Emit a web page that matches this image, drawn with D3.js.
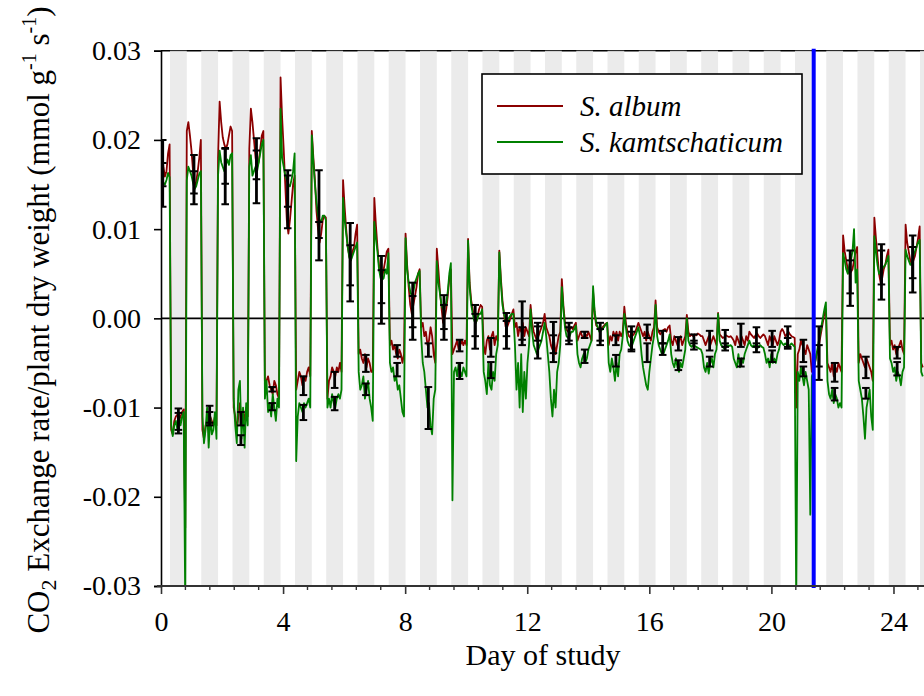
<!DOCTYPE html>
<html>
<head>
<meta charset="utf-8">
<script src="https://cdn.jsdelivr.net/npm/d3@7"></script>
<style>
  body { margin: 0; background: #fff; }
  svg text { font-family: "Liberation Serif", "Times New Roman", serif; fill: #000; }
</style>
</head>
<body>
<svg id="chart" width="924" height="696"></svg>
<script>
// CO2 exchange of two Sedum species over the course of the study.
// Rates are logged on a regular grid (one row per light/dark cycle) in
// µmol g-1 s-1 and converted to mmol g-1 s-1 for plotting.
const sampleStartDay = 0.026;
const sampleStepDay = 0.0512;

const albumRate = [
  18.5, 17.0, 15.9, 16.5, 18.5, 19.5, -12.5, -13, -11.5, -11, -10.8, -11.5, -11, -10.5, -10.2, -23.5,
  21.0, 22.0, 20.5, 18.8, 16.5, 14.8, 15.3, 16.5, 18.0, 20.0, -12.5, -13.5, -12, -11.5, -12.5, -11, -11.5, -12, -11, -12,
  18, 24.3, 22, 20.3, 19.5, 19.0, 19.5, 20.5, 21.5, 21.0, -10, -11, -12.5, -11, -9.5, -11.5, -12, -11, -10, -11,
  19, 23.5, 22, 20, 18, 17, 17.5, 19, 20.5, 21, -8, -7, -6.5, -7.5, -8, -8.5, -7, -7.5, -8.5, -9,
  27, 22.5, 19, 15, 11, 9.5, 11, 13, 15, 16, -8, -7, -6, -6.5, -7.5, -6.5, -7, -6, -5.5, -6.5,
  21, 18, 15.5, 12, 10, 8.5, 9.5, 11, 11.5, 11.3, -9, -7, -6.5, -5.5, -6, -6.5, -5.5, -6, -5, -6,
  15.5, 12.5, 10, 8, 7, 6.5, 7.5, 8, 9.5, 10.5, -4, -3.5, -4.5, -5, -4, -5.5, -4.5, -5, -6, -6,
  13.5, 10.5, 8, 6, 5, 4.5, 5.5, 6.5, 7.5, 7.8, -3, -2.5, -3.5, -3, -4, -4.5, -3.5, -4, -5, -4,
  9.5, 6, 3.5, 1.5, 0.5, 1.5, 2.5, 3.5, 5, 5.5, -1, -0.5, -2, -1.5, -3, -2.5, -1, -2, -4, -5,
  7.8, 5.5, 3, 1.2, -0.5, 0, 1, 2.5, 4.5, 5.5, -4, -3.5, -3, -2.5, -3.5, -3, -2.5, -3, -2.5, -3,
  8.9, 4, 2, 1, 0, -0.5, 0, 1, 1.5, 1.3, -3, -4, -2.5, -2, -3.5, -2, -1.5, -3, -2, -2.5,
  7.6, 4.5, 2, 0.5, -0.9, -1, -0.5, 0, 0.5, 1, -1, -0.5, -2, -1, -1.5, -0.5, -2, -1, -1.5, -2,
  1.5, -0.5, -1.5, -2, -2.5, -2, -1.5, -1, -0.5, 0.5, -1, -1.5, -2, -3, -3.5, -2.5, -4, -3, -2, -1.5,
  4.4, 1.5, -0.5, -1.3, -1.5, -1.2, -1, -1.2, -0.8, -0.5, -2.5, -2, -1.5, -2, -2.2, -1.8, -2, -1.5, -2, -2.5,
  3.0, 0.5, -0.8, -1, -1.3, -1.2, -1, -0.8, -0.6, -0.5, -3, -2, -2.5, -1.5, -2, -1.5, -2.5, -1.5, -2, -1.5,
  1.3, -0.5, -1.5, -2, -2.2, -2, -1.8, -1.5, -1, -0.5, -1, -1.5, -2, -1.5, -2.5, -1.5, -2, -2.5, -1.5, -1,
  2.0, -1, -1.5, -1.8, -1.5, -1.3, -1.2, -1.5, -1, -0.8, -2.5, -3, -2, -2.5, -3, -2.5, -2, -3, -2.5, -2,
  0.4, -1.5, -2, -1.8, -2, -1.8, -1.9, -1.7, -1.8, -2, -2, -2.5, -3, -2.5, -2, -3, -2.5, -2, -2.5, -3,
  0.6, -1.8, -2, -2.2, -2.1, -1.9, -2, -2.1, -2, -2.2, -2.5, -3, -2, -2.5, -3, -2, -2.5, -3, -2, -2.5,
  -1.5, -1.8, -2, -2.2, -1.9, -1.7, -2, -2.2, -2, -1.8, -2, -2.5, -3, -2, -2.5, -3, -2, -2.5, -3, -2.5,
  -1.5, -1.2, -1.5, -2, -1.8, -1.5, -1.8, -2, -2.1, -2.2, -10, -4, -3.5, -2.5, -3, -3.5, -4, -3, -3.5, -4,
  -6, -5.5, -5, -4, -3.5, -2.5, -1.5, -0.5, 0.5, 1.0, -5, -5.5, -6, -5, -6.5, -5.5, -6, -5, -5.5, -6,
  9.3, 7.5, 6.5, 5.5, 5, 5.2, 5.5, 6.5, 7.5, 8.0, -5, -4, -4.5, -5, -5.5, -4.5, -5, -5.5, -6, -7,
  11.3, 9, 7, 5, 4, 4.5, 5.5, 6, 7, 7.7, -3, -2.5, -3.5, -3, -4, -3.5, -3, -2.5, -3.5, -4,
  10.5, 8.5, 7.5, 6.5, 6, 6.5, 7, 8, 9, 10.3, -5, -5.5
];

const kamtRate = [
  16.0, 15.2, 15.0, 15.5, 16.3, 15.8, -12, -13.2, -12, -11.5, -12.5, -11, -12, -11, -10.5, -32,
  15.5, 17.0, 16.5, 16.0, 15.2, 14.5, 14.8, 15.5, 16.2, 16.5, -11, -14, -12.5, -10, -14.5, -11, -13, -12.5, -10.5, -13.5,
  16, 18.8, 17.5, 17, 16.5, 17.2, 17.8, 17.2, 18.3, 18.5, -9, -12, -14, -8, -7, -13.5, -10, -14.5, -9.5, -12,
  17, 18.3, 16, 16.5, 17, 16.5, 17.5, 18.5, 19.5, 20, -9, -7, -10.5, -9.5, -11, -8.5, -10, -11.5, -9, -10,
  23.5, 18, 17, 16, 15.5, 15, 14.8, 15.5, 16.5, 18.5, -16, -11, -9.5, -10, -10.5, -9.5, -10, -9.5, -9, -10,
  20.5, 17.5, 15, 13, 11.5, 11, 10.8, 11.5, 11.5, 11, -10, -9, -10, -8.5, -9.5, -10, -9, -8.5, -9, -8,
  13.5, 11, 9.5, 8, 6.8, 6.5, 7, 7.5, 8, 8.5, -6, -8, -7.5, -6.5, -9, -8, -7, -9, -10, -11.5,
  10.8, 9, 7.5, 5.5, 4.5, 4.3, 4.5, 5.5, 5.0, 7.3, -5, -6, -5.5, -7, -6.5, -8, -7.5, -9, -10.5, -11,
  9, 5.5, 4, 3, 2.5, 3, 4, 4.5, 5.0, 5.3, -2, -5, -6, -8, -10, -9.5, -12, -13, -9, -8,
  6.4, 4, 2.8, 1.5, 1, 1.3, 1.7, 3, 5, 6.2, -20.4, -6, -5.5, -6.5, -5, -6, -6.5, -5.5, -6, -6.5,
  8.7, 3.5, 1.5, 0.5, -0.3, -0.5, 0, 0.5, 0.5, 1.0, -6, -7, -8.5, -5, -7.5, -8, -6, -7, -4, -3,
  7.4, 4, 1.5, 0.5, -0.2, -0.3, 0, 0.3, 0.5, 0.5, -3, -8, -5, -10, -4, -10.5, -6, -9, -5, -3,
  1.0, -1.5, -3, -3.5, -4, -3.5, -3, -2.5, -1.5, -0.5, -2, -4, -6, -9, -11, -8, -10, -6, -5, -3,
  3.5, 1, -1, -2, -2.2, -2, -1.5, -1.5, -1.2, -0.8, -4, -5, -5.5, -4.5, -4, -5, -4.5, -3.5, -3, -2.5,
  3.6, 0.8, -0.5, -1, -1.5, -1.4, -1.2, -1, -0.7, -0.5, -5, -6, -4.5, -5.5, -7, -5, -6.5, -4, -3.5, -2,
  0.5, -1, -2.5, -3, -3.2, -3, -2.5, -2, -1.5, -1, -2, -4, -5.5, -6.5, -7.5, -8, -6, -4.5, -3, -2,
  1.5, -2, -3, -3.5, -4, -4, -3.5, -3, -2.5, -1.8, -4, -5, -5.5, -4.5, -5.5, -6, -5, -5.5, -4.5, -3.5,
  0, -2.5, -3, -3.2, -3, -3.1, -3.2, -3.3, -3.4, -3.5, -4, -5.5, -6, -5, -6.2, -5, -4.5, -5.5, -4, -3.5,
  0.5, -2.5, -3, -3.2, -3.4, -3.2, -3, -3.1, -3, -3.2, -4.5, -5, -5.5, -4, -5.5, -4.5, -5, -4, -3.5, -3,
  -2.5, -3, -3.2, -3, -3.3, -3.4, -3.1, -3, -3.2, -3.3, -4, -5, -4.5, -5.5, -4, -5, -4.5, -5, -4, -3.5,
  -2.5, -2.8, -3, -2.8, -3, -3.2, -3, -2.8, -3, -3.2, -32, -6, -7, -5.5, -6.5, -7.5, -6, -7, -8, -22,
  -6.5, -6, -5, -4, -3, -2, -1, 0, 1, 1.8, -7, -8.5, -9, -8, -9.5, -8.5, -9, -10, -9.5, -10,
  7.3, 6.5, 5.5, 5, 6, 6.5, 7.5, 10, 4, 5.5, -7, -8, -9, -11, -13.5, -10, -9, -8, -11, -12.5,
  9.2, 7.5, 6, 5, 5.3, 5.5, 5.8, 6, 6.5, 7, -4.5, -5, -6, -5.5, -7, -6, -6.5, -7.5, -6, -5.5,
  7.7, 7, 6.5, 6, 6.2, 7, 7.5, 8, 8.5, 8.8, -6, -6.5
];

// Dark periods (shaded), in days
const darkStart = [0.295, 1.319, 2.343, 3.367, 4.391, 5.414, 6.438, 7.462, 8.486, 9.510,
  10.534, 11.558, 12.582, 13.606, 14.630, 15.654, 16.677, 17.701, 18.725, 19.749,
  20.773, 21.797, 22.821, 23.845, 24.869];
const darkEnd = [0.845, 1.869, 2.893, 3.917, 4.941, 5.965, 6.989, 8.013, 9.037, 10.061,
  11.085, 12.108, 13.132, 14.156, 15.180, 16.204, 17.228, 18.252, 19.276, 20.300,
  21.323, 22.347, 23.371, 24.395, 25.419];

// Mean ± SE of each light and dark period (µmol g-1 s-1)
const barDays = [0.056, 0.570, 1.080, 1.594, 2.104, 2.618, 3.128, 3.642, 4.152, 4.666,
  5.176, 5.690, 6.199, 6.713, 7.223, 7.737, 8.247, 8.761, 9.271, 9.785,
  10.295, 10.809, 11.319, 11.833, 12.343, 12.857, 13.367, 13.881, 14.391, 14.905,
  15.415, 15.929, 16.438, 16.952, 17.462, 17.976, 18.486, 19.000, 19.510, 20.024,
  20.534, 21.048, 21.558, 22.072, 22.582, 23.096, 23.606, 24.120, 24.630];
const albumBarMean = [16.25, -11.5, 15.55, -10.75, 15.95, -11.25, 16.55, -7.95, 13.35, -7.55,
  11.55, -6.9, 6.3, -5.05, 3.2, -3.65, 0.8, -3.55, 0.1, -3.05,
  -0.95, -3.25, -1.4, -0.25, -1.5, -2.15, -1.7, -1.85, -1.75, -2.45,
  -2.3, -1.45, -2.1, -2.85, -2.3, -2.5, -2.25, -1.9, -2.1, -2.3,
  -2.15, -3.65, -3.9, -6.05, 4.5, -5.5, 5.2, -3.85, 6.1];
const albumBarSE = [3.75, 1.4, 2.75, 0.95, 3.15, 0.75, 3.65, 0.25, 3.25, 1.05,
  5.05, 0.9, 4.4, 0.95, 3.8, 0.65, 3.2, 0.75, 2.5, 0.65,
  2.45, 1.05, 2.0, 2.15, 1.0, 1.75, 1.2, 0.35, 1.25, 0.55,
  1.4, 0.75, 0.7, 0.75, 0.5, 1.1, 0.95, 1.3, 1.1, 0.9,
  1.25, 1.25, 3.0, 1.05, 3.1, 1.2, 3.1, 0.65, 3.2];
const kamtBarMean = [16.1, -11.55, 15.25, -11.25, 17.05, -13.65, 17.2, -9.9, 14.25, -10.55,
  9.9, -9.55, 5.95, -7.95, 3.55, -5.75, 0.75, -10.05, 0.15, -5.9,
  -0.75, -5.8, -1.15, -2.0, -2.7, -3.4, -1.75, -4.25, -1.85, -4.75,
  -2.5, -3.85, -3.45, -5.25, -3.0, -4.85, -3.2, -4.95, -3.3, -4.25,
  -2.7, -5.95, -4.2, -8.5, 4.65, -8.4, 5.7, -5.65, 6.25];
const kamtBarSE = [1.3, 0.95, 1.25, 0.75, 1.95, 0.55, 1.6, 0.4, 1.75, 0.85,
  0.9, 0.75, 2.25, 0.65, 1.85, 0.75, 1.75, 2.35, 1.35, 0.9,
  1.25, 0.9, 0.85, 1.0, 1.8, 1.5, 0.75, 0.75, 0.65, 0.65,
  1.0, 1.05, 0.65, 0.55, 0.5, 0.55, 0.4, 0.45, 0.5, 0.65,
  0.5, 0.55, 1.2, 0.7, 1.85, 0.6, 1.9, 0.75, 1.75];

const treatmentDay = 21.386;
const xTickValues = [0, 4, 8, 12, 16, 20, 24];
const xMinorStep = 0.8;
const yTickValues = [-0.03, -0.02, -0.01, 0, 0.01, 0.02, 0.03];
const seriesNames = ["S. album", "S. kamtschaticum"];
const seriesColors = ["#8b0000", "#008000"];

const svg = d3.select("#chart");
const x = d3.scaleLinear().domain([0, 25]).range([161, 924]);
const y = d3.scaleLinear().domain([-0.03, 0.03]).range([586, 50.7]);
const toMmol = v => v / 1000;

svg.append("defs").append("clipPath").attr("id", "plot-clip")
  .append("rect").attr("x", x(0)).attr("y", y(0.03))
  .attr("width", x(25) - x(0)).attr("height", y(-0.03) - y(0.03));

// top frame (partly veiled by the night shading)
svg.append("line").attr("x1", x(0)).attr("x2", x(25))
  .attr("y1", y(0.03)).attr("y2", y(0.03))
  .attr("stroke", "#000").attr("stroke-width", 1.6);

// night shading
svg.append("g").attr("clip-path", "url(#plot-clip)")
  .selectAll("rect").data(darkStart).join("rect")
  .attr("x", d => x(d))
  .attr("width", (d, i) => x(darkEnd[i]) - x(d))
  .attr("y", y(0.03) - 1).attr("height", y(-0.03) - y(0.03) + 1)
  .attr("fill", "rgb(230,230,230)").attr("fill-opacity", 0.78);

// zero reference
svg.append("line").attr("x1", x(0)).attr("x2", x(25))
  .attr("y1", y(0)).attr("y2", y(0))
  .attr("stroke", "#000").attr("stroke-width", 1.6);

// series
const line = d3.line()
  .x((d, i) => x(sampleStartDay + i * sampleStepDay))
  .y(d => y(toMmol(d)));
const plot = svg.append("g").attr("clip-path", "url(#plot-clip)");
[albumRate, kamtRate].forEach((s, k) => {
  plot.append("path").datum(s).attr("d", line)
    .attr("fill", "none").attr("stroke", seriesColors[k])
    .attr("stroke-width", 1.8).attr("stroke-linejoin", "round");
});

// error bars
const bars = svg.append("g").attr("clip-path", "url(#plot-clip)");
[[albumBarMean, albumBarSE], [kamtBarMean, kamtBarSE]].forEach(([m, se]) => {
  const g = bars.append("g").selectAll("g").data(barDays).join("g");
  g.append("line")
    .attr("x1", d => x(d)).attr("x2", d => x(d))
    .attr("y1", (d, i) => y(toMmol(m[i] - se[i])))
    .attr("y2", (d, i) => y(toMmol(m[i] + se[i])))
    .attr("stroke", "#000").attr("stroke-width", 2.8);
  [-1, 1].forEach(sgn => {
    g.append("line")
      .attr("x1", d => x(d) - 3.8).attr("x2", d => x(d) + 3.8)
      .attr("y1", (d, i) => y(toMmol(m[i] + sgn * se[i])))
      .attr("y2", (d, i) => y(toMmol(m[i] + sgn * se[i])))
      .attr("stroke", "#000").attr("stroke-width", 2);
  });
});

// treatment marker
svg.append("line").attr("x1", x(treatmentDay)).attr("x2", x(treatmentDay))
  .attr("y1", y(0.03) - 2).attr("y2", y(-0.03) + 2)
  .attr("stroke", "#0000ff").attr("stroke-width", 4);

// axes
const yAxis = d3.axisLeft(y).tickValues(yTickValues)
  .tickFormat(d3.format(".2f")).tickSize(7).tickPadding(13);
const yg = svg.append("g").attr("transform", `translate(${x(0)},0)`).call(yAxis);
yg.select(".domain").attr("stroke", "#000").attr("stroke-width", 1.6);
yg.selectAll(".tick line").attr("stroke", "#000").attr("stroke-width", 1.6);
yg.selectAll(".tick text").attr("font-size", 28)
  .attr("font-family", "Liberation Serif").text(d => d3.format(".2f")(d).replace("−", "-"));

const minorTicks = d3.range(0, 25, xMinorStep).filter(v => !xTickValues.some(t => Math.abs(t - v) < 1e-6));
svg.append("g").attr("transform", `translate(0,${y(-0.03)})`)
  .selectAll("line").data(minorTicks).join("line")
  .attr("x1", d => x(d)).attr("x2", d => x(d)).attr("y1", 0).attr("y2", 4)
  .attr("stroke", "#333").attr("stroke-width", 1.4);
const xAxis = d3.axisBottom(x).tickValues(xTickValues).tickSize(8).tickPadding(17);
const xg = svg.append("g").attr("transform", `translate(0,${y(-0.03)})`).call(xAxis);
xg.select(".domain").attr("stroke", "#333").attr("stroke-width", 2).attr("d", `M${x(0) - 4},0H${x(25)}`);
xg.selectAll(".tick line").attr("stroke", "#333").attr("stroke-width", 1.6);
xg.selectAll(".tick text").attr("font-size", 28).attr("font-family", "Liberation Serif");

// axis titles
svg.append("text").attr("x", 543).attr("y", 665)
  .attr("text-anchor", "middle").attr("font-size", 30).text("Day of study");

const yt = svg.append("text").attr("transform", "translate(49,320) rotate(-90)")
  .attr("text-anchor", "middle").attr("font-size", 31);
yt.append("tspan").text("CO");
yt.append("tspan").attr("font-size", 22).attr("dy", 7).text("2");
yt.append("tspan").attr("dy", -7).text(" Exchange rate/plant dry weight (mmol g");
yt.append("tspan").attr("font-size", 20).attr("dy", -13).text("-1");
yt.append("tspan").attr("dy", 13).text(" s");
yt.append("tspan").attr("font-size", 20).attr("dy", -13).text("-1");
yt.append("tspan").attr("dy", 13).text(")");

// legend
const lg = svg.append("g");
lg.append("rect").attr("x", 482).attr("y", 74).attr("width", 320).attr("height", 100)
  .attr("fill", "#fff").attr("stroke", "#000").attr("stroke-width", 1.6);
seriesNames.forEach((name, i) => {
  const yy = 106 + i * 36;
  lg.append("line").attr("x1", 497).attr("x2", 563).attr("y1", yy).attr("y2", yy)
    .attr("stroke", seriesColors[i]).attr("stroke-width", 2);
  lg.append("text").attr("x", 580).attr("y", yy + 10)
    .attr("font-size", 29).attr("font-style", "italic").text(name);
});
</script>
</body>
</html>
